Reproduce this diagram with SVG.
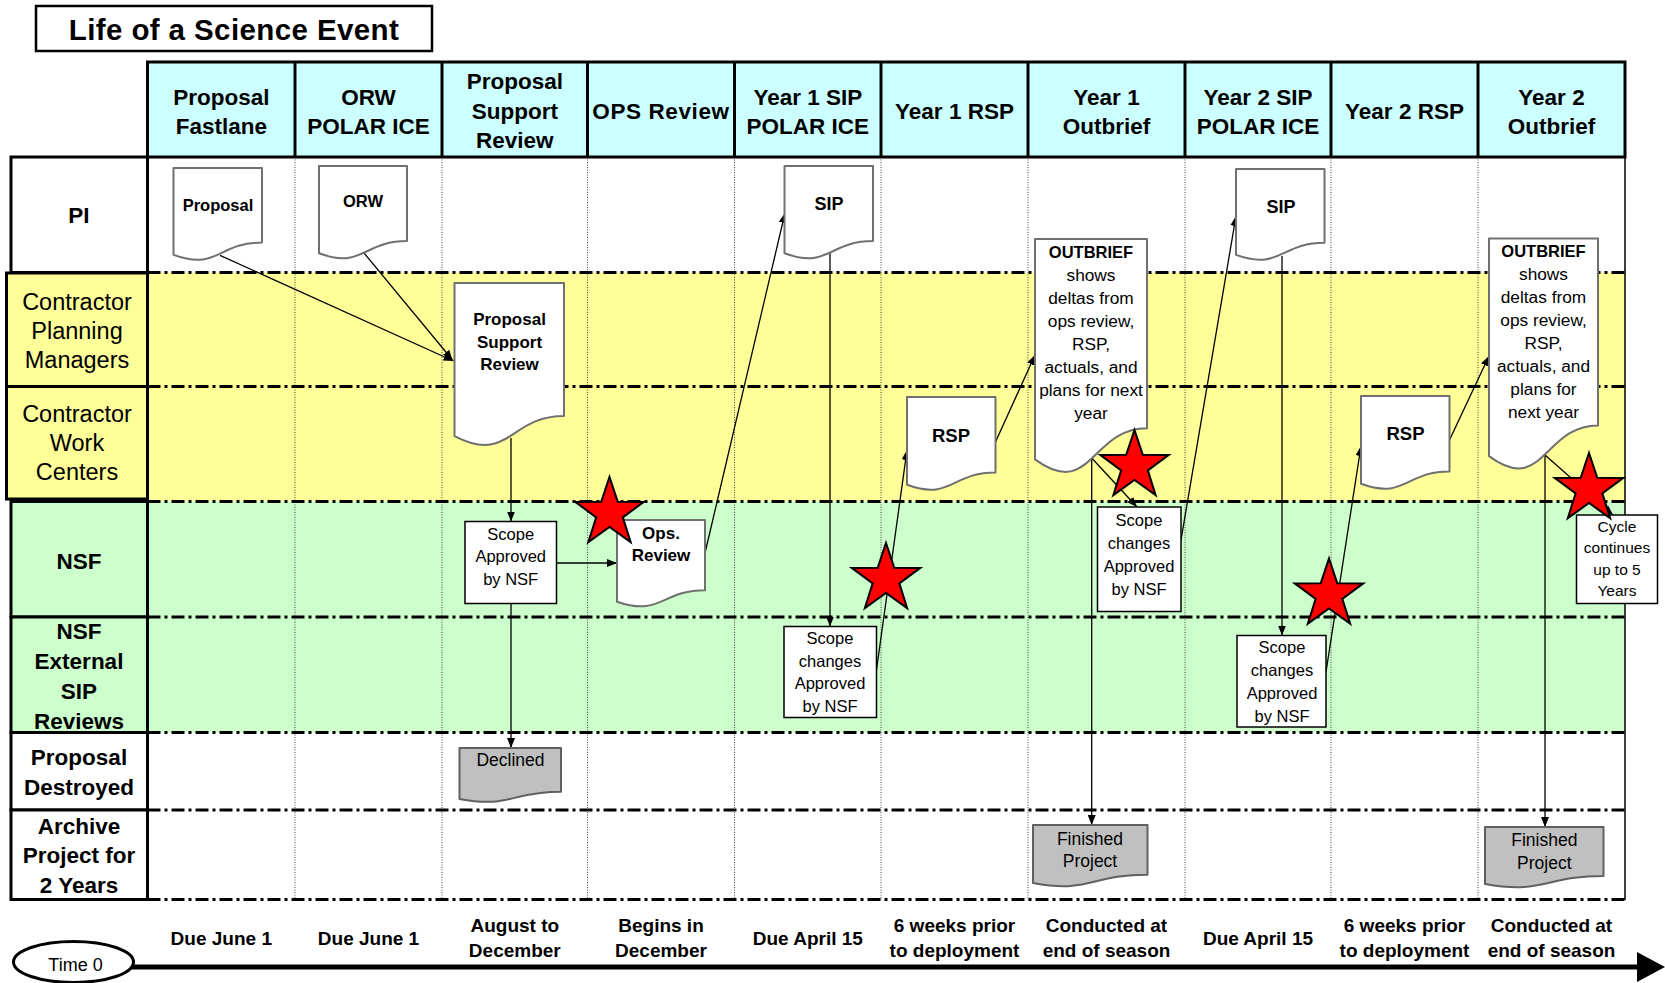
<svg xmlns="http://www.w3.org/2000/svg" width="1665" height="983" viewBox="0 0 1665 983">
<style>
text{font-family:"Liberation Sans",Arial,sans-serif;text-anchor:middle;fill:#000}
.hdr{font-weight:bold;font-size:22.5px}
.lb{font-weight:bold;font-size:22.5px}
.lr{font-size:23.5px}
.tm{font-weight:bold;font-size:19px}
.nb{font-weight:bold;font-size:17px}
.nr{font-size:16.5px}
.doc{fill:#fff;stroke:#707070;stroke-width:2;stroke-linejoin:round}
.docg{fill:#c0c0c0;stroke:#606060;stroke-width:2;stroke-linejoin:round}
.box{fill:#fff;stroke:#000;stroke-width:1.5}
.conn line{stroke:#000;stroke-width:1.3;marker-end:url(#ah)}
.star{fill:#ff0000;stroke:#000;stroke-width:2;stroke-linejoin:miter}
.dd{stroke:#000;stroke-width:3;stroke-dasharray:13 4 3 4}
.dot{stroke:#444;stroke-width:1;stroke-dasharray:1 1.5}
.lbox{stroke:#000;stroke-width:3}
</style>
<defs>
<marker id="ah" viewBox="0 0 10 8" refX="10" refY="4" markerWidth="10" markerHeight="8" markerUnits="userSpaceOnUse" orient="auto">
<path d="M0,0 L10,4 L0,8 Z" fill="#000"/>
</marker>
<polygon id="star" class="star" points="0,-36 8.23,-11.33 34.24,-11.12 13.32,4.33 21.16,29.12 0,14 -21.16,29.12 -13.32,4.33 -34.24,-11.12 -8.23,-11.33"/>
</defs>
<rect width="1665" height="983" fill="#fff"/>

<g id="title">
<rect x="36" y="6" width="396" height="45" fill="#fff" stroke="#000" stroke-width="2.5"/>
<text x="234" y="39.5" style="font-weight:bold;font-size:29.5px;letter-spacing:0.4px">Life of a Science Event</text>
</g>

<g id="lanes">
<rect x="147.5" y="272.5" width="1477.5" height="229" fill="#ffff99"/>
<rect x="147.5" y="501.5" width="1477.5" height="231" fill="#ccffcc"/>
<g>
<line class="dot" x1="295" y1="157" x2="295" y2="900"/>
<line class="dot" x1="442" y1="157" x2="442" y2="900"/>
<line class="dot" x1="587.5" y1="157" x2="587.5" y2="900"/>
<line class="dot" x1="734.5" y1="157" x2="734.5" y2="900"/>
<line class="dot" x1="881" y1="157" x2="881" y2="900"/>
<line class="dot" x1="1028" y1="157" x2="1028" y2="900"/>
<line class="dot" x1="1185" y1="157" x2="1185" y2="900"/>
<line class="dot" x1="1331" y1="157" x2="1331" y2="900"/>
<line class="dot" x1="1478" y1="157" x2="1478" y2="900"/>
<line x1="1625" y1="157" x2="1625" y2="900" stroke="#000" stroke-width="1.5"/>
</g>
<g>
<line class="dd" x1="147.5" y1="272.5" x2="1625" y2="272.5"/>
<line class="dd" x1="147.5" y1="386.5" x2="1625" y2="386.5"/>
<line class="dd" x1="147.5" y1="501.5" x2="1625" y2="501.5"/>
<line class="dd" x1="147.5" y1="617" x2="1625" y2="617"/>
<line class="dd" x1="147.5" y1="732.5" x2="1625" y2="732.5"/>
<line class="dd" x1="147.5" y1="810" x2="1625" y2="810"/>
<line class="dd" x1="147.5" y1="899.5" x2="1625" y2="899.5"/>
</g>
</g>

<g id="header">
<rect x="147.5" y="62" width="1477.5" height="95" fill="#ccffff" stroke="#000" stroke-width="3"/>
<g stroke="#000" stroke-width="3">
<line x1="295" y1="62" x2="295" y2="157"/>
<line x1="442" y1="62" x2="442" y2="157"/>
<line x1="587.5" y1="62" x2="587.5" y2="157"/>
<line x1="734.5" y1="62" x2="734.5" y2="157"/>
<line x1="881" y1="62" x2="881" y2="157"/>
<line x1="1028" y1="62" x2="1028" y2="157"/>
<line x1="1185" y1="62" x2="1185" y2="157"/>
<line x1="1331" y1="62" x2="1331" y2="157"/>
<line x1="1478" y1="62" x2="1478" y2="157"/>
</g>
<text class="hdr" x="221.3" y="104.5">Proposal</text><text class="hdr" x="221.3" y="133.5">Fastlane</text>
<text class="hdr" x="368.5" y="104.5">ORW</text><text class="hdr" x="368.5" y="133.5">POLAR ICE</text>
<text class="hdr" x="514.8" y="88.5">Proposal</text><text class="hdr" x="514.8" y="118.5">Support</text><text class="hdr" x="514.8" y="148">Review</text>
<text class="hdr" x="661" y="118.5" style="letter-spacing:0.6px">OPS Review</text>
<text class="hdr" x="807.8" y="104.5">Year 1 SIP</text><text class="hdr" x="807.8" y="133.5">POLAR ICE</text>
<text class="hdr" x="954.5" y="118.5">Year 1 RSP</text>
<text class="hdr" x="1106.5" y="104.5">Year 1</text><text class="hdr" x="1106.5" y="133.5">Outbrief</text>
<text class="hdr" x="1258" y="104.5">Year 2 SIP</text><text class="hdr" x="1258" y="133.5">POLAR ICE</text>
<text class="hdr" x="1404.5" y="118.5">Year 2 RSP</text>
<text class="hdr" x="1551.5" y="104.5">Year 2</text><text class="hdr" x="1551.5" y="133.5">Outbrief</text>
</g>

<g id="row-labels">
<rect class="lbox" x="11" y="157" width="136.5" height="115.5" fill="#fff"/>
<text class="lb" x="79" y="223">PI</text>
<rect class="lbox" x="6.5" y="273" width="141" height="113.5" fill="#ffff99"/>
<text class="lr" x="77" y="310">Contractor</text><text class="lr" x="77" y="339">Planning</text><text class="lr" x="77" y="368">Managers</text>
<rect class="lbox" x="6.5" y="386.5" width="141" height="112.5" fill="#ffff99"/>
<text class="lr" x="77" y="422">Contractor</text><text class="lr" x="77" y="451">Work</text><text class="lr" x="77" y="480">Centers</text>
<rect class="lbox" x="11" y="501.5" width="136.5" height="115.5" fill="#ccffcc"/>
<text class="lb" x="79" y="569">NSF</text>
<rect class="lbox" x="11" y="617" width="136.5" height="115.5" fill="#ccffcc"/>
<text class="lb" x="79" y="639">NSF</text><text class="lb" x="79" y="669">External</text><text class="lb" x="79" y="699">SIP</text><text class="lb" x="79" y="728.5">Reviews</text>
<rect class="lbox" x="11" y="732.5" width="136.5" height="77.5" fill="#fff"/>
<text class="lb" x="79" y="765">Proposal</text><text class="lb" x="79" y="794.5">Destroyed</text>
<rect class="lbox" x="11" y="810" width="136.5" height="89.5" fill="#fff"/>
<text class="lb" x="79" y="833.5">Archive</text><text class="lb" x="79" y="863">Project for</text><text class="lb" x="79" y="892.5">2 Years</text>
</g>

<g id="timeline">
<line x1="130" y1="967" x2="1640" y2="967" stroke="#000" stroke-width="5"/>
<polygon points="1637,952 1665,967 1637,982" fill="#000"/>
<ellipse cx="73.5" cy="962" rx="60" ry="20.5" fill="#fff" stroke="#000" stroke-width="3"/>
<text x="75.5" y="970.5" style="font-size:18px">Time 0</text>
<text class="tm" x="221.3" y="945">Due June 1</text>
<text class="tm" x="368.5" y="945">Due June 1</text>
<text class="tm" x="514.8" y="932">August to</text><text class="tm" x="514.8" y="957">December</text>
<text class="tm" x="661" y="932">Begins in</text><text class="tm" x="661" y="957">December</text>
<text class="tm" x="807.8" y="945">Due April 15</text>
<text class="tm" x="954.5" y="932">6 weeks prior</text><text class="tm" x="954.5" y="957">to deployment</text>
<text class="tm" x="1106.5" y="932">Conducted at</text><text class="tm" x="1106.5" y="957">end of season</text>
<text class="tm" x="1258" y="945">Due April 15</text>
<text class="tm" x="1404.5" y="932">6 weeks prior</text><text class="tm" x="1404.5" y="957">to deployment</text>
<text class="tm" x="1551.5" y="932">Conducted at</text><text class="tm" x="1551.5" y="957">end of season</text>
</g>

<g id="connectors" class="conn">
<line x1="220" y1="255.3" x2="453.5" y2="361"/>
<line x1="364" y1="253" x2="452.5" y2="360"/>
<line x1="511" y1="438" x2="511" y2="521.5"/>
<line x1="556.5" y1="563" x2="617" y2="563"/>
<line x1="511" y1="603.5" x2="511" y2="748"/>
<line x1="705" y1="553" x2="785" y2="213"/>
<line x1="830" y1="253" x2="830" y2="626.5"/>
<line x1="876.5" y1="670" x2="907" y2="450"/>
<line x1="995.5" y1="442" x2="1035" y2="355"/>
<line x1="1091.7" y1="458" x2="1137" y2="507"/>
<line x1="1091.7" y1="458" x2="1091.7" y2="825"/>
<line x1="1181" y1="540" x2="1236" y2="216"/>
<line x1="1282" y1="256" x2="1282" y2="635.5"/>
<line x1="1326" y1="672" x2="1361" y2="446"/>
<line x1="1449.5" y1="440" x2="1489" y2="356"/>
<line x1="1545" y1="455" x2="1613" y2="515"/>
<line x1="1545" y1="455" x2="1545" y2="827"/>
</g>

<g id="n-proposal">
<path class="doc" d="M173.5,168 H262 V242.6 C217.75,242.6 217.75,270.9 173.5,254.9 Z"/>
<text x="218" y="210.5" style="font-weight:bold;font-size:16.5px">Proposal</text>
</g>
<g id="n-orw">
<path class="doc" d="M319,166 H407 V241 C363,241 363,269.5 319,253.3 Z"/>
<text x="363" y="207" style="font-weight:bold;font-size:16.5px">ORW</text>
</g>
<g id="n-psr">
<path class="doc" d="M454.5,283 H564 V416 C509.25,416 509.25,464.5 454.5,436.2 Z"/>
<text class="nb" x="509.5" y="325">Proposal</text><text class="nb" x="509.5" y="347.5">Support</text><text class="nb" x="509.5" y="370">Review</text>
</g>
<g id="n-scope-approved">
<rect class="box" x="465" y="521.5" width="91.5" height="82"/>
<text class="nr" x="510.7" y="539.5">Scope</text><text class="nr" x="510.7" y="562">Approved</text><text class="nr" x="510.7" y="584.5">by NSF</text>
</g>
<g id="n-ops-review">
<path class="doc" d="M617,520 H705 V590.2 C661,590.2 661,616.9 617,601.7 Z"/>
<text class="nb" x="661" y="538.5">Ops.</text><text class="nb" x="661" y="560.5">Review</text>
</g>
<g id="n-sip1">
<path class="doc" d="M784.5,166 H873 V241 C828.75,241 828.75,269.5 784.5,253.3 Z"/>
<text x="829" y="210" style="font-weight:bold;font-size:18px">SIP</text>
</g>
<g id="n-scope1">
<rect class="box" x="784" y="626.5" width="92.5" height="91"/>
<text class="nr" x="830" y="644">Scope</text><text class="nr" x="830" y="666.5">changes</text><text class="nr" x="830" y="689">Approved</text><text class="nr" x="830" y="711.5">by NSF</text>
</g>
<g id="n-rsp1">
<path class="doc" d="M907,397 H995.5 V472.4 C951.25,472.4 951.25,501.1 907,484.8 Z"/>
<text x="951" y="442" style="font-weight:bold;font-size:18.5px">RSP</text>
</g>
<g id="n-outbrief1">
<path class="doc" d="M1035,239 H1147 V428.3 C1091,428.3 1091,500.3 1035,459.4 Z"/>
<g style="font-size:17.3px">
<text x="1091" y="257.5" style="font-weight:bold;font-size:16.5px">OUTBRIEF</text>
<text x="1091" y="280.5">shows</text>
<text x="1091" y="303.5">deltas from</text>
<text x="1091" y="326.5">ops review,</text>
<text x="1091" y="349.5">RSP,</text>
<text x="1091" y="372.5">actuals,  and</text>
<text x="1091" y="395.5">plans for next</text>
<text x="1091" y="418.5">year</text>
</g>
</g>
<g id="n-scope-ob1">
<rect class="box" x="1097.5" y="507" width="83.5" height="104.5"/>
<text class="nr" x="1139" y="526">Scope</text><text class="nr" x="1139" y="549">changes</text><text class="nr" x="1139" y="571.5">Approved</text><text class="nr" x="1139" y="594.5">by NSF</text>
</g>
<g id="n-sip2">
<path class="doc" d="M1236,169 H1324.5 V242.8 C1280.25,242.8 1280.25,270.8 1236,254.9 Z"/>
<text x="1281" y="212.5" style="font-weight:bold;font-size:18px">SIP</text>
</g>
<g id="n-scope2">
<rect class="box" x="1237" y="635.5" width="89" height="91.5"/>
<text class="nr" x="1282" y="653">Scope</text><text class="nr" x="1282" y="676">changes</text><text class="nr" x="1282" y="699">Approved</text><text class="nr" x="1282" y="721.5">by NSF</text>
</g>
<g id="n-rsp2">
<path class="doc" d="M1361,396 H1449.5 V471.4 C1405.25,471.4 1405.25,500.1 1361,483.8 Z"/>
<text x="1405.5" y="440" style="font-weight:bold;font-size:18.5px">RSP</text>
</g>
<g id="n-outbrief2">
<path class="doc" d="M1489,238.5 H1598 V425.4 C1543.5,425.4 1543.5,496.4 1489,456.1 Z"/>
<g style="font-size:17.3px">
<text x="1543.5" y="256.5" style="font-weight:bold;font-size:16.5px">OUTBRIEF</text>
<text x="1543.5" y="279.5">shows</text>
<text x="1543.5" y="302.5">deltas from</text>
<text x="1543.5" y="325.5">ops review,</text>
<text x="1543.5" y="348.5">RSP,</text>
<text x="1543.5" y="371.5">actuals, and</text>
<text x="1543.5" y="394.5">plans for</text>
<text x="1543.5" y="417.5">next year</text>
</g>
</g>
<g id="n-cycle">
<rect class="box" x="1576.5" y="515" width="81" height="88.5"/>
<g style="font-size:15.5px">
<text x="1617" y="531.5">Cycle</text><text x="1617" y="553">continues</text><text x="1617" y="574.5">up to 5</text><text x="1617" y="596">Years</text>
</g>
</g>
<g id="n-declined">
<path class="docg" d="M459.5,748 H561 V791.8 C510.25,791.8 510.25,808.4 459.5,799 Z"/>
<text x="510.5" y="766" style="font-size:17.5px">Declined</text>
</g>
<g id="n-finished1">
<path class="docg" d="M1033,825 H1147.5 V874.7 C1090.25,874.7 1090.25,893.6 1033,882.9 Z"/>
<text x="1090" y="845" style="font-size:17.5px">Finished</text><text x="1090" y="867" style="font-size:17.5px">Project</text>
</g>
<g id="n-finished2">
<path class="docg" d="M1485,827 H1603.5 V875.9 C1544.25,875.9 1544.25,894.5 1485,884 Z"/>
<text x="1544.3" y="846" style="font-size:17.5px">Finished</text><text x="1544.3" y="869" style="font-size:17.5px">Project</text>
</g>

<g id="stars">
<use href="#star" x="609.5" y="513"/>
<use href="#star" x="886" y="579"/>
<use href="#star" x="1134.5" y="466"/>
<use href="#star" x="1329" y="594.5"/>
<use href="#star" x="1589" y="489"/>
</g>
</svg>
